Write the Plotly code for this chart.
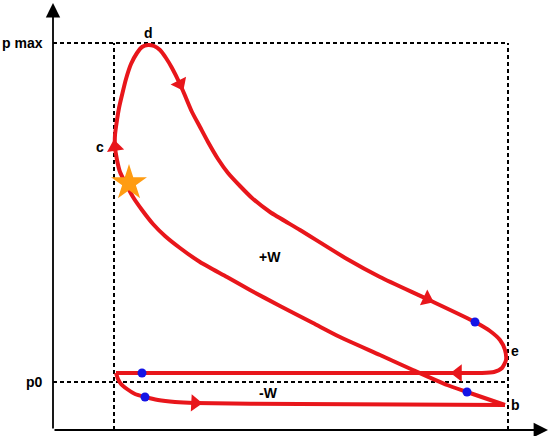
import math
import plotly.graph_objects as go

# ---- data (volume in cm^3, pressure in kPa) ----
V_c = 61        # clearance volume
V_max = 455     # max volume
p_0 = 96        # ambient pressure
p_max = 774     # max pressure

# intake stroke (from exhaust end to b)
intake_V = [63, 65, 68, 74, 82, 92, 105, 122, 142, 247, 452]
intake_p = [114, 102, 92, 82, 72, 66, 60, 56, 54, 52, 50]

# compression (b -> c)
comp_V = [452, 414, 394, 360, 327, 287, 260, 227, 197, 174, 147, 127, 112, 100, 89, 80, 73, 67, 64, 62]
comp_p = [50, 76, 90, 120, 150, 186, 214, 248, 280, 306, 336, 364, 388, 412, 440, 466, 492, 516, 540, 566]

# combustion (c -> d)
comb_V = [62, 64, 66, 69, 73, 78, 84, 89, 95]
comb_p = [590, 620, 644, 670, 702, 732, 754, 766, 770]

# expansion (d -> e -> exhaust start)
exp_V = [101, 107, 113, 119, 127, 133, 139, 147, 155, 165, 175, 187, 199, 217, 247, 294, 327, 374, 422,
         437, 447, 452, 453, 449, 441, 429, 407]
exp_p = [768, 760, 744, 724, 692, 664, 636, 606, 576, 542, 514, 488, 464, 436, 400, 342, 306, 262, 216,
         198, 180, 160, 140, 124, 116, 114, 114]

# exhaust stroke (straight back to clearance volume)
exh_V = [407, 63]
exh_p = [114, 114]

# direction arrows (values on the curve where arrows sit)
arrow_V = [142, 62, 127, 374, 405]
arrow_p = [54, 566, 692, 262, 114]

# blue state points
dot_V = [89, 92, 414, 422]
dot_p = [114, 66, 76, 216]

# ignition point (star)
star_V = [76]
star_p = [494]

# labels
label_text = ["d", "c", "e", "b", "+W", "-W"]
label_V = [95, 47, 462, 462, 217, 215]
label_p = [794, 566, 158, 50, 346, 74]

# ---- figure ----
W, H = 552, 436
x_range = [-53, 499]
y_range = [-12, 860]
sx = W / (x_range[1] - x_range[0])
sy = H / (y_range[1] - y_range[0])

RED = "#e8161b"
LW = 4
fig = go.Figure()

# smooth parts
fig.add_trace(go.Scatter(x=intake_V, y=intake_p, mode="lines",
                         line=dict(color=RED, width=LW, shape="spline", smoothing=0.6),
                         hoverinfo="skip"))
loop_V = comp_V + comb_V + exp_V
loop_p = comp_p + comb_p + exp_p
fig.add_trace(go.Scatter(x=loop_V, y=loop_p, mode="lines",
                         line=dict(color=RED, width=LW, shape="spline", smoothing=0.6),
                         hoverinfo="skip"))
fig.add_trace(go.Scatter(x=exh_V, y=exh_p, mode="lines",
                         line=dict(color=RED, width=LW),
                         hoverinfo="skip"))

# arrow angles from the nearest curve segment
segs = [(intake_V, intake_p), (loop_V, loop_p), (exh_V, exh_p)]
angles = []
for av, ap in zip(arrow_V, arrow_p):
    best = None
    for sv, sp in segs:
        for k in range(len(sv) - 1):
            x0, y0, x1, y1 = sv[k] * sx, sp[k] * sy, sv[k + 1] * sx, sp[k + 1] * sy
            ax_, ay_ = av * sx, ap * sy
            dx, dy = x1 - x0, y1 - y0
            L2 = dx * dx + dy * dy or 1e-9
            t = max(0, min(1, ((ax_ - x0) * dx + (ay_ - y0) * dy) / L2))
            d = (x0 + t * dx - ax_) ** 2 + (y0 + t * dy - ay_) ** 2
            if best is None or d < best[0]:
                best = (d, dx, dy)
    _, dx, dy = best
    angles.append(math.degrees(math.atan2(dx, dy)))

fig.add_trace(go.Scatter(x=arrow_V, y=arrow_p, mode="markers",
                         marker=dict(symbol="triangle-up", size=15, color=RED, angle=angles,
                                     line=dict(width=0)),
                         hoverinfo="skip"))

fig.add_trace(go.Scatter(x=dot_V, y=dot_p, mode="markers",
                         marker=dict(size=9, color="#1414e6", line=dict(width=0)),
                         hoverinfo="skip"))

fig.add_trace(go.Scatter(x=star_V, y=star_p, mode="markers",
                         marker=dict(symbol="star", size=27, color="#ff9c12", line=dict(width=0)),
                         hoverinfo="skip"))

# dashed reference lines
dash = dict(color="black", width=2, dash="4px,3px")
shapes = [
    dict(type="line", x0=0, x1=V_max, y0=p_max, y1=p_max, line=dash, layer="below"),
    dict(type="line", x0=0, x1=V_max, y0=p_0, y1=p_0, line=dash, layer="below"),
    dict(type="line", x0=V_c, x1=V_c, y0=0, y1=p_max, line=dash, layer="below"),
    dict(type="line", x0=V_max, x1=V_max, y0=0, y1=p_max, line=dash, layer="below"),
]

font = dict(family="Liberation Sans, Arial, sans-serif", size=14, color="black", weight="bold")
annotations = []
for t, v, p in zip(label_text, label_V, label_p):
    annotations.append(dict(x=v, y=p, text=t, showarrow=False, font=font,
                            xanchor="center", yanchor="middle"))
annotations.append(dict(x=-8, y=p_max, text="p max", showarrow=False, font=font,
                        xanchor="right", yanchor="middle"))
annotations.append(dict(x=-8, y=p_0, text="p0", showarrow=False, font=font,
                        xanchor="right", yanchor="middle"))

# axes with arrows
annotations.append(dict(x=0, y=y_range[1] - 6, ax=0, ay=0, xref="x", yref="y", axref="x", ayref="y",
                        text="", showarrow=True, arrowhead=2, arrowsize=1.6, arrowwidth=1.8,
                        arrowcolor="black"))
annotations.append(dict(x=x_range[1] - 4, y=0, ax=0, ay=0, xref="x", yref="y", axref="x", ayref="y",
                        text="", showarrow=True, arrowhead=2, arrowsize=1.6, arrowwidth=1.8,
                        arrowcolor="black"))

fig.update_layout(
    width=W, height=H,
    margin=dict(l=0, r=0, t=0, b=0),
    paper_bgcolor="white", plot_bgcolor="white",
    showlegend=False,
    xaxis=dict(range=x_range, visible=False, fixedrange=True),
    yaxis=dict(range=y_range, visible=False, fixedrange=True),
    shapes=shapes,
    annotations=annotations,
)

fig.write_html("out.html",
               config={"displayModeBar": False},
               post_script="document.body.style.margin='0';document.body.style.overflow='hidden';")
